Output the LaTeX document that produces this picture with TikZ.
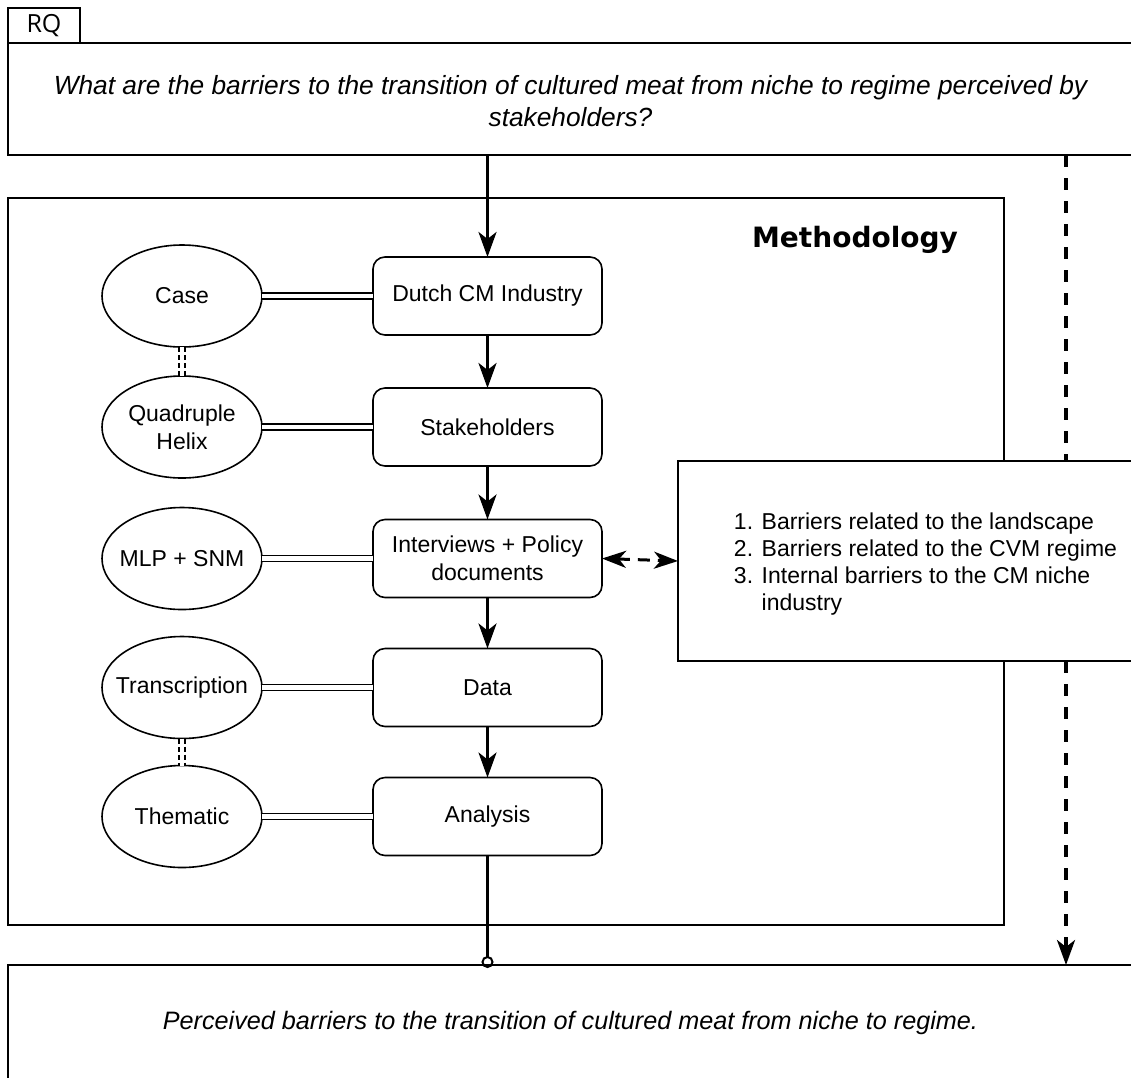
\documentclass[tikz,border=0pt]{standalone}
\usepackage{fontspec}
\setmainfont{Liberation Sans}
\newfontfamily\headfont{DejaVu Sans}
\newfontfamily\tabfont{Open Sans}
\usetikzlibrary{arrows.meta,shapes.geometric}
\pgfdeclarelayer{behind}
\pgfsetlayers{behind,main}

\begin{document}
\begin{tikzpicture}[x=1pt,y=-1pt,
  frame/.style={draw, line width=1.6pt, fill=white, inner sep=0pt, outer sep=0pt},
  stepbox/.style={frame, rounded corners=12pt, minimum width=229pt, minimum height=78pt,
    align=center, font=\fontsize{23}{27.6}\selectfont},
  oval/.style={draw, line width=1.6pt, ellipse, minimum width=160pt, minimum height=102pt,
    inner xsep=-15pt, inner ysep=0pt, outer sep=0pt, align=center,
    font=\fontsize{23}{27.6}\selectfont},
  flowtip/.tip={Stealth[length=25pt,width=18pt,inset=7pt]},
  flow/.style={line width=3pt, -flowtip},
  link/.style={double, line width=1.6pt, double distance=4.5pt},
  peer/.style={link, dash pattern=on 5pt off 3pt},
  bigtext/.style={font=\itshape\fontsize{26.3}{32}\selectfont, align=center}
]
% canvas
\begin{pgfonlayer}{behind}
  \fill[white] (0,0) rectangle (1131,1077);
\end{pgfonlayer}
\useasboundingbox (0,0) rectangle (1131,1077);

% research question
\node[frame, minimum width=72pt, minimum height=35pt, font=\tabfont\fontsize{25}{28}\selectfont]
  (tab) at (44,25.5) {RQ};
\node[frame, minimum width=1125pt, minimum height=112pt, bigtext] (rq) at (570.5,99)
  {\raisebox{-5pt}[\height][\depth]{\begin{tabular}{@{}c@{}}What are the barriers to the transition of cultured meat from niche to regime perceived by\\stakeholders?\end{tabular}}};

% methodology frame
\node[frame, fill=none, minimum width=996pt, minimum height=727pt] (meth) at (506,561.5) {};
\node[font=\headfont\bfseries\fontsize{28}{34}\selectfont] (methlabel) at (855,240) {Methodology};

% steps
\node[stepbox] (dutch) at (487.5,296) {Dutch CM Industry};
\node[stepbox] (stake) at (487.5,427) {Stakeholders};
\node[stepbox] (inter) at (487.5,558.5) {Interviews + Policy\\documents};
\node[stepbox] (data)  at (487.5,687.5) {Data};
\node[stepbox] (anal)  at (487.5,816.5) {Analysis};

% concepts
\node[oval] (case)  at (182,296) {Case};
\node[oval] (quad)  at (182,427) {Quadruple\\Helix};
\node[oval] (mlp)   at (182,558.5) {MLP + SNM};
\node[oval] (trans) at (182,687.5) {Transcription};
\node[oval] (them)  at (182,816.5) {Thematic};

% result
\node[frame, minimum width=1125pt, minimum height=116pt,
  font=\itshape\fontsize{25.2}{30}\selectfont] (result) at (570.5,1023)
  {Perceived barriers to the transition of cultured meat from niche to regime.};

% dashed path from question to result, passing behind the barrier list
\coordinate (dx) at (1066,0);
\begin{pgfonlayer}{behind}
  \draw[line width=3.5pt, dash pattern=on 12pt off 11pt, -flowtip] (rq.south -| dx) -- (result.north -| dx);
\end{pgfonlayer}

% barrier categories
\node[frame, minimum width=495pt, minimum height=200pt,
  font=\fontsize{23}{27}\selectfont] (barr) at (925.5,561)
  {\raisebox{-4pt}[\height][\depth]{\begin{tabular}{@{}l@{}}
   1. Barriers related to the landscape\\
   2. Barriers related to the CVM regime\\
   3. Internal barriers to the CM niche\\
   \hphantom{3. }industry
   \end{tabular}}};

% main flow
\draw[flow] (rq.south -| dutch) -- (dutch.north);
\draw[flow] (dutch) -- (stake);
\draw[flow] (stake) -- (inter);
\draw[flow] (inter) -- (data);
\draw[flow] (data) -- (anal);
\draw[line width=3pt, -{Circle[open,length=12pt,width=12pt,line width=2pt]}, shorten >=-3pt]
  (anal.south) -- (result.north -| anal);

% concept links
\draw[link] (case) -- (dutch);
\draw[link] (quad) -- (stake);
\draw[link] (mlp) -- (inter);
\draw[link] (trans) -- (data);
\draw[link] (them) -- (anal);
\draw[peer] (case) -- (quad);
\draw[peer] (trans) -- (them);

% exchange with the barrier list
\draw[line width=3pt, dash pattern=on 12pt off 8pt,
  {Stealth[length=24pt,width=17pt,inset=7pt]}-{Stealth[length=24pt,width=17pt,inset=7pt]}]
  (inter.east) -- (barr.west);
\end{tikzpicture}
\end{document}
